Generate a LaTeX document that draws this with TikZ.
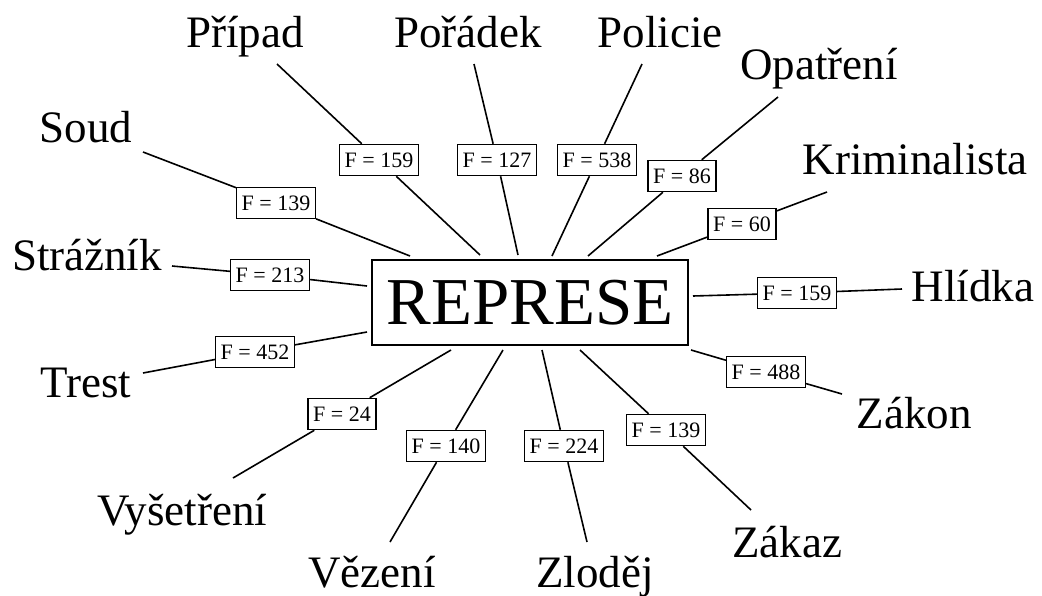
\documentclass[tikz,border=0pt]{standalone}
\usepackage{fontspec}
\setmainfont{Liberation Serif}
\begin{document}
\begin{tikzpicture}[x=1pt,y=-1pt,
  word/.style={anchor=base,inner sep=0pt,font=\fontsize{45}{54}\selectfont},
  lab/.style={draw,line width=1.5pt,fill=white,inner xsep=5pt,inner ysep=0pt,minimum height=31pt,font=\fontsize{22}{26}\selectfont},
  link/.style={line width=1.6pt}]
\useasboundingbox (0,0) rectangle (1042,595);
\node[draw,line width=1.5pt,minimum width=316pt,minimum height=85pt,inner sep=0pt,font=\fontsize{67}{80}\selectfont] (c) at (530,302.5) {REPRESE};

% words
\node[word] (w1) at (245,47) {Případ};
\node[word] (w2) at (468,47) {Pořádek};
\node[word] (w3) at (660,47) {Policie};
\node[word] (w4) at (819,79) {Opatření};
\node[word] (w5) at (915,174) {Kriminalista};
\node[word] (w6) at (86,142) {Soud};
\node[word] (w7) at (87,270) {Strážník};
\node[word] (w8) at (973,301) {Hlídka};
\node[word] (w9) at (914,428) {Zákon};
\node[word] (w10) at (787,557) {Zákaz};
\node[word] (w11) at (595,587) {Zloděj};
\node[word] (w12) at (372,587) {Vězení};
\node[word] (w13) at (182,525) {Vyšetření};
\node[word] (w14) at (86,397) {Trest};

% line ends
\coordinate (a1) at (277,64);  \coordinate (b1) at (480,255);
\coordinate (a2) at (474,64);  \coordinate (b2) at (518,255);
\coordinate (a3) at (642,64);  \coordinate (b3) at (552,256);
\coordinate (a4) at (778,97);  \coordinate (b4) at (588,256);
\coordinate (a5) at (827,192); \coordinate (b5) at (657,256);
\coordinate (a6) at (143,152); \coordinate (b6) at (410,256);
\coordinate (a7) at (172,266); \coordinate (b7) at (367,286);
\coordinate (a8) at (902,289); \coordinate (b8) at (693,296);
\coordinate (a9) at (842,394); \coordinate (b9) at (691,350);
\coordinate (a10) at (751,510); \coordinate (b10) at (580,350);
\coordinate (a11) at (587,542); \coordinate (b11) at (542,350);
\coordinate (a12) at (390,542); \coordinate (b12) at (503,350);
\coordinate (a13) at (233,478); \coordinate (b13) at (451,350);
\coordinate (a14) at (143,373); \coordinate (b14) at (367,332);

% labels
\node[lab] (l1) at (379,160) {F = 159};
\node[lab] (l2) at (497,160) {F = 127};
\node[lab] (l3) at (597,160) {F = 538};
\node[lab] (l4) at (682,176) {F = 86};
\node[lab] (l5) at (742,224) {F = 60};
\node[lab] (l6) at (276,203) {F = 139};
\node[lab] (l7) at (270,275) {F = 213};
\node[lab] (l8) at (797,293) {F = 159};
\node[lab] (l9) at (766,372) {F = 488};
\node[lab] (l10) at (666,430) {F = 139};
\node[lab] (l11) at (564,446) {F = 224};
\node[lab] (l12) at (446,446) {F = 140};
\node[lab] (l13) at (342,414) {F = 24};
\node[lab] (l14) at (255,352) {F = 452};

% connectors
\foreach \i in {1,...,14}{
  \draw[link] (a\i) -- (l\i) -- (b\i);
}
\end{tikzpicture}
\end{document}
